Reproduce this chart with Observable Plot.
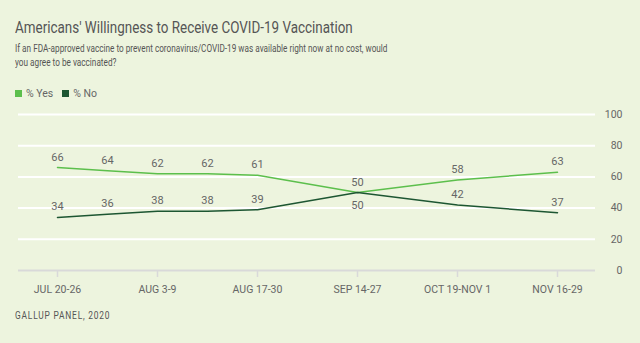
<!DOCTYPE html>
<html><head><meta charset="utf-8">
<script src="https://cdn.jsdelivr.net/npm/d3@7"></script>
<script src="https://cdn.jsdelivr.net/npm/@observablehq/plot@0.6"></script>
<style>
html,body{margin:0;padding:0;}
body{background:#edf4de;font-family:Roboto,"Liberation Sans",sans-serif;width:640px;height:343px;overflow:hidden;position:relative;color:#555}
#title{position:absolute;left:15px;top:17px;font-size:17px;color:#555;white-space:nowrap;transform:scaleX(0.79);transform-origin:left top}
#subtitle{position:absolute;left:15px;top:42px;font-size:10.8px;line-height:14px;color:#555;white-space:nowrap;transform:scaleX(0.76);transform-origin:left top}
#legend{position:absolute;left:15px;top:87px;font-size:10.5px;color:#666;display:flex;align-items:center;gap:0}
#legend .sw{display:inline-block;width:7px;height:7px;margin-right:4px}
#legend .item{display:flex;align-items:center;margin-right:9px}
#chart{position:absolute;left:0;top:100px}
#caption{position:absolute;left:15px;top:309px;font-size:10.5px;letter-spacing:1px;color:#555;white-space:nowrap;transform:scaleX(0.8);transform-origin:left top}
</style>
</head><body>
<div id="title">Americans' Willingness to Receive COVID-19 Vaccination</div>
<div id="subtitle">If an FDA-approved vaccine to prevent coronavirus/COVID-19 was available right now at no cost, would<br>you agree to be vaccinated?</div>
<div id="legend"></div>
<div id="chart"></div>
<div id="caption">GALLUP PANEL, 2020</div>
<script>
// Axis slots (survey periods and unsurveyed gaps) in display order
const slots = ["JUL 20-26","JUL 27-AUG 2","AUG 3-9","AUG 10-16","AUG 17-30","AUG 31-SEP 13","SEP 14-27","SEP 28-OCT 18","OCT 19-NOV 1","NOV 2-15","NOV 16-29"];
// Surveyed periods
const periods = ["JUL 20-26","JUL 27-AUG 2","AUG 3-9","AUG 10-16","AUG 17-30","SEP 14-27","OCT 19-NOV 1","NOV 16-29"];
const yesValues = [66,64,62,62,61,50,58,63];
const noValues = [34,36,38,38,39,50,42,37];
const tickLabels = ["JUL 20-26","AUG 3-9","AUG 17-30","SEP 14-27","OCT 19-NOV 1","NOV 16-29"];
const yTicks = [0,20,40,60,80,100];
const seriesNames = ["% Yes","% No"];
const seriesColors = ["#5cbf4c","#1d5632"];

const data = [];
periods.forEach((p,i)=>{
  data.push({period:p, series:"% Yes", value:yesValues[i], other:noValues[i]});
  data.push({period:p, series:"% No", value:noValues[i], other:yesValues[i]});
});
const isBelow = d => d.series === "% No" && d.value >= d.other;

// legend
const leg = document.getElementById("legend");
seriesNames.forEach((s,i)=>{
  const it = document.createElement("span"); it.className="item";
  const sw = document.createElement("span"); sw.className="sw"; sw.style.background=seriesColors[i];
  it.appendChild(sw); it.appendChild(document.createTextNode(s)); leg.appendChild(it);
});

const font = "Roboto, 'Liberation Sans', sans-serif";
const chart = Plot.plot({
  width: 640,
  height: 200,
  marginLeft: 18,
  marginRight: 45,
  marginTop: 14,
  marginBottom: 30,
  style: {background: "transparent", fontFamily: font, fontSize: "10.5px", color: "#666"},
  x: {type: "point", domain: slots, padding: 0.69, label: null},
  y: {domain: [0,100], label: null},
  color: {domain: seriesNames, range: seriesColors},
  marks: [
    Plot.ruleY(yTicks.filter(t => t > 0), {stroke: "#ffffff", strokeWidth: 2}),
    Plot.ruleY([0], {stroke: "#d9d9d9", strokeWidth: 2}),
    Plot.axisX({ticks: tickLabels, tickSize: 7, tickPadding: 8, stroke: "#d9d9d9", strokeWidth: 1.5, fill: "#666", label: null}),
    Plot.axisY({anchor: "right", ticks: yTicks, tickSize: 0, tickPadding: 27, textAnchor: "end", fill: "#666", label: null}),
    Plot.line(data, {x: "period", y: "value", z: "series", stroke: "series", strokeWidth: 1.5}),
    Plot.text(data.filter(d => !isBelow(d)), {x: "period", y: "value", text: d => String(d.value), lineAnchor: "bottom", dy: -7, fill: "#666", fontSize: 11}),
    Plot.text(data.filter(isBelow), {x: "period", y: "value", text: d => String(d.value), lineAnchor: "top", dy: 9, fill: "#666", fontSize: 11})
  ]
});
document.getElementById("chart").appendChild(chart);
</script>
</body></html>
